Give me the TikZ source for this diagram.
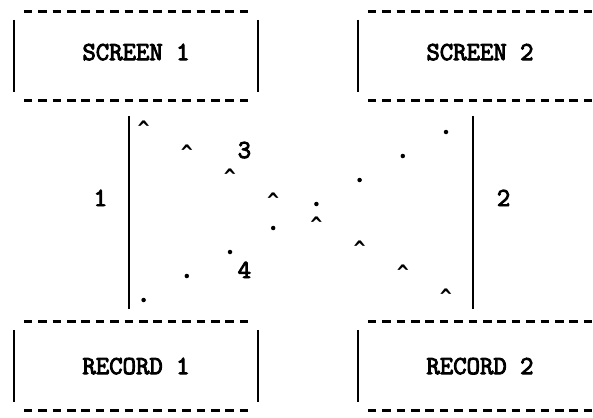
\documentclass[tikz,border=0pt]{standalone}
\usepackage{fontspec}

\newfontfamily\asciiface{Latin Modern Mono}[FakeBold=3.6]
\newfontfamily\caretface{DejaVu Sans Mono}
\newcommand{\asciifont}{\fontsize{26}{26}\selectfont\asciiface}
\newcommand{\caretfont}{\fontsize{20}{20}\selectfont\caretface\bfseries}

\begin{document}
\begin{tikzpicture}[
  x=1pt, y=-1pt,
  every node/.style={inner sep=0pt},
  box/.style={minimum width=244pt, minimum height=88pt, font=\asciifont, text depth=8pt},
  rim/.style={draw, line width=3pt, dash pattern=on 8.6pt off 5.8pt},
  side/.style={draw, line width=2pt},
  link/.style={draw, line width=2pt, shorten <=16pt, shorten >=13pt},
  lbl/.style={font=\asciifont, anchor=base},
  tip/.style={font=\caretfont, anchor=base},
  spot/.style={circle, fill=black, minimum size=4.5pt}]

  \clip (0,0) rectangle (593,417);

  \node[box] (screen1) at (136, 56)  {SCREEN 1};
  \node[box] (screen2) at (480, 56)  {SCREEN 2};
  \node[box, text depth=0pt] (record1) at (136, 366) {RECORD 1};
  \node[box, text depth=0pt] (record2) at (480, 366) {RECORD 2};

  % box edges: dashes top and bottom, bars at the sides
  \foreach \b in {screen1, screen2, record1, record2} {
    \draw[rim] ([xshift=10pt]\b.north west) -- ([xshift=-10pt]\b.north east);
    \draw[rim] ([xshift=10pt]\b.south west) -- ([xshift=-10pt]\b.south east);
    \draw[side] (\b.north west) ++(0,8) -- ++(0,72);
    \draw[side] (\b.north east) ++(0,8) -- ++(0,72);
  }

  \draw[link] ([xshift=-7.2pt]screen1.south) -- ([xshift=-7.2pt]record1.north);
  \draw[link] ([xshift=-7.2pt]screen2.south) -- ([xshift=-7.2pt]record2.north);

  % the two crossing diagonals
  \foreach \k in {0,...,7} {
    \node[tip]  (up\k) at ({143.6+43.2*\k}, {135+24*\k}) {\textasciicircum};
    \node[spot] (dn\k) at ({446-43.2*\k}, {132+24*\k}) {};
  }

  \node[lbl] (one)   at (100.4, 206) {1};
  \node[lbl] (two)   at (503.6, 206) {2};
  \node[lbl] (three) at (244.4, 158) {3};
  \node[lbl] (four)  at (244.4, 278) {4};

\end{tikzpicture}
\end{document}
